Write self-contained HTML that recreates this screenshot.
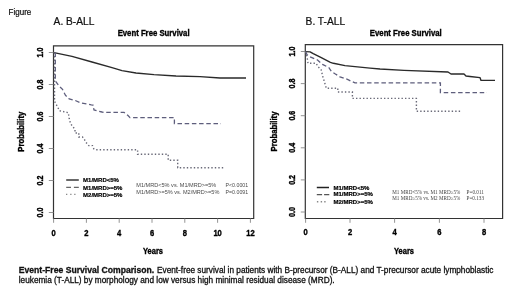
<!DOCTYPE html>
<html><head><meta charset="utf-8">
<style>
html,body{margin:0;padding:0;background:#fff;}
body{width:520px;height:296px;overflow:hidden;}
svg{display:block;filter:blur(0.3px);}
text{font-family:"Liberation Sans",sans-serif;}
.b{font-weight:bold;}
.hd{fill:#111;stroke:#111;stroke-width:0.22px;}
.ti{font-weight:bold;fill:#000;stroke:#000;stroke-width:0.32px;}
.lab{font-weight:bold;font-size:7.6px;fill:#000;stroke:#000;stroke-width:0.32px;text-anchor:middle;}
.box{fill:none;stroke:#333;stroke-width:1.2;}
.tk{stroke:#888;stroke-width:0.9;}
.sol{fill:none;stroke:#2a2a2a;stroke-width:1.4;stroke-linejoin:round;}
.das{fill:none;stroke:#5e5e7c;stroke-width:1.3;stroke-dasharray:4.5 2.7;}
.dot{fill:none;stroke:#6a6a78;stroke-width:1.4;stroke-dasharray:1.4 2.1;}
.lg{font-weight:bold;font-size:6px;fill:#000;stroke:#000;stroke-width:0.18px;}
.pv{font-size:5.6px;fill:#4a4a4a;}
.pvs{font-family:"Liberation Serif",serif;font-size:5.2px;fill:#444;}
.cap{font-size:8.25px;fill:#111;stroke:#111;stroke-width:0.3px;}
</style></head>
<body>
<svg width="520" height="296" viewBox="0 0 520 296">
<rect x="0" y="0" width="520" height="296" fill="#fff"/>
<text transform="translate(8.6 14.8) scale(1 1.08)" font-size="8.0" class="hd">Figure</text>
<text x="53.6" y="25" font-size="10.2" class="hd">A. B-ALL</text>
<text x="305.6" y="24.6" font-size="10.2" class="hd">B. T-ALL</text>
<text transform="translate(153.6 36.4) scale(1 1.08)" class="ti" font-size="7.76" text-anchor="middle">Event Free Survival</text>
<text transform="translate(405.8 36.4) scale(1 1.08)" class="ti" font-size="7.76" text-anchor="middle">Event Free Survival</text>

<!-- LEFT PLOT -->
<path class="box" d="M53.5 45.9 H253.7 V218.5 H53.5 Z"/>
<g class="tk">
<line x1="48.8" y1="52.5" x2="53.5" y2="52.5"/>
<line x1="48.8" y1="84.5" x2="53.5" y2="84.5"/>
<line x1="48.8" y1="116.5" x2="53.5" y2="116.5"/>
<line x1="48.8" y1="148.5" x2="53.5" y2="148.5"/>
<line x1="48.8" y1="180.5" x2="53.5" y2="180.5"/>
<line x1="48.8" y1="212.5" x2="53.5" y2="212.5"/>
<line x1="53.6" y1="218.5" x2="53.6" y2="222.8"/>
<line x1="86.4" y1="218.5" x2="86.4" y2="222.8"/>
<line x1="119.2" y1="218.5" x2="119.2" y2="222.8"/>
<line x1="152" y1="218.5" x2="152" y2="222.8"/>
<line x1="184.8" y1="218.5" x2="184.8" y2="222.8"/>
<line x1="217.6" y1="218.5" x2="217.6" y2="222.8"/>
<line x1="250.4" y1="218.5" x2="250.4" y2="222.8"/>
</g>
<g class="lab">
<text transform="translate(42.6 52.5) rotate(-90) scale(1 1.2)" font-size="7.1">1.0</text>
<text transform="translate(42.6 84.5) rotate(-90) scale(1 1.2)" font-size="7.1">0.8</text>
<text transform="translate(42.6 116.5) rotate(-90) scale(1 1.2)" font-size="7.1">0.6</text>
<text transform="translate(42.6 148.5) rotate(-90) scale(1 1.2)" font-size="7.1">0.4</text>
<text transform="translate(42.6 180.5) rotate(-90) scale(1 1.2)" font-size="7.1">0.2</text>
<text transform="translate(42.6 212.5) rotate(-90) scale(1 1.2)" font-size="7.1">0.0</text>
<text transform="translate(53.6 235.7) scale(1 1.08)">0</text>
<text transform="translate(86.4 235.7) scale(1 1.08)">2</text>
<text transform="translate(119.2 235.7) scale(1 1.08)">4</text>
<text transform="translate(152 235.7) scale(1 1.08)">6</text>
<text transform="translate(184.8 235.7) scale(1 1.08)">8</text>
<text transform="translate(217.6 235.7) scale(1 1.08)">10</text>
<text transform="translate(250.4 235.7) scale(1 1.08)">12</text>
</g>
<text transform="translate(24.4 131.7) rotate(-90) scale(1 1.08)" class="ti" font-size="7.74" text-anchor="middle">Probability</text>
<text transform="translate(153 254) scale(1 1.1)" class="ti" font-size="7.5" text-anchor="middle">Years</text>

<path class="sol" d="M54 52.6 L72 56.4 L92 62 L112 67.6 L122 70.6 L136 73 L154 74.6 L176 76 L200 76.6 L220 78 L246 78"/>
<path class="das" d="M55.3 52.6 V80.8 L58.7 85.6 L62.5 89.4 L65.4 95.2 L69.2 99 L75 100.4 L80.8 102.9 L91.3 104.8 L93 105 L94 110 L102 112 L104 112.4 H124 L128 115.6 L130 117.6 H174.4 V123.6 H221"/>
<path class="dot" d="M54.5 52.6 V101.2 L59.6 110.8 L68.3 112.7 L69.2 118.5 L70.6 123.75 L75 129.4 V133 H78.8 V137 H82.5 L84.4 139.4 L85.6 141.9 L88.75 145.6 H92.5 L93.75 148.75 L95.6 149.8 H137.6 V154.2 H168.2 V160.2 H177.7 V167.7 H225.2"/>

<line x1="66.2" y1="180" x2="78.8" y2="180" stroke="#444" stroke-width="1.6"/>
<path d="M66.2 187.3 H71 M73.9 187.3 H78.8" stroke="#666" stroke-width="1.3"/>
<path d="M66 194.4 h1.3 M70.2 194.4 h1.3 M74.2 194.4 h1.3" stroke="#888" stroke-width="1.3"/>
<text x="83.1" y="182.1" class="lg">M1/MRD&lt;5%</text>
<text x="83.1" y="189.8" class="lg">M1/MRD&gt;=5%</text>
<text x="83.1" y="197.3" class="lg">M2/MRD&gt;=5%</text>
<text x="136.3" y="186.5" class="pv" textLength="80" lengthAdjust="spacingAndGlyphs">M1/MRD&lt;5% vs. M1/MRD&gt;=5%</text>
<text x="225.6" y="186.5" class="pv" textLength="22.5" lengthAdjust="spacingAndGlyphs">P&lt;0.0001</text>
<text x="136.3" y="193.8" class="pv" textLength="83.1" lengthAdjust="spacingAndGlyphs">M1/MRD&gt;=5% vs. M2/MRD&gt;=5%</text>
<text x="225.6" y="193.8" class="pv" textLength="22.5" lengthAdjust="spacingAndGlyphs">P=0.0091</text>

<!-- RIGHT PLOT -->
<path class="box" d="M305.3 44.6 H502.6 V218.5 H305.3 Z"/>
<g class="tk">
<line x1="300.8" y1="51.5" x2="305.4" y2="51.5"/>
<line x1="300.8" y1="83.6" x2="305.4" y2="83.6"/>
<line x1="300.8" y1="115.7" x2="305.4" y2="115.7"/>
<line x1="300.8" y1="147.8" x2="305.4" y2="147.8"/>
<line x1="300.8" y1="179.9" x2="305.4" y2="179.9"/>
<line x1="300.8" y1="212.0" x2="305.4" y2="212.0"/>
<line x1="305.6" y1="218.5" x2="305.6" y2="222.8"/>
<line x1="350" y1="218.5" x2="350" y2="222.8"/>
<line x1="394.6" y1="218.5" x2="394.6" y2="222.8"/>
<line x1="439.4" y1="218.5" x2="439.4" y2="222.8"/>
<line x1="484" y1="218.5" x2="484" y2="222.8"/>
</g>
<g class="lab">
<text transform="translate(295 51.5) rotate(-90) scale(1 1.2)" font-size="7.1">1.0</text>
<text transform="translate(295 83.6) rotate(-90) scale(1 1.2)" font-size="7.1">0.8</text>
<text transform="translate(295 115.7) rotate(-90) scale(1 1.2)" font-size="7.1">0.6</text>
<text transform="translate(295 147.8) rotate(-90) scale(1 1.2)" font-size="7.1">0.4</text>
<text transform="translate(295 179.9) rotate(-90) scale(1 1.2)" font-size="7.1">0.2</text>
<text transform="translate(295 212.0) rotate(-90) scale(1 1.2)" font-size="7.1">0.0</text>
<text transform="translate(305.6 235.2) scale(1 1.08)">0</text>
<text transform="translate(350 235.2) scale(1 1.08)">2</text>
<text transform="translate(394.6 235.2) scale(1 1.08)">4</text>
<text transform="translate(439.4 235.2) scale(1 1.08)">6</text>
<text transform="translate(484 235.2) scale(1 1.08)">8</text>
</g>
<text transform="translate(277 131.5) rotate(-90) scale(1 1.08)" class="ti" font-size="7.74" text-anchor="middle">Probability</text>
<text transform="translate(404 254) scale(1 1.1)" class="ti" font-size="7.5" text-anchor="middle">Years</text>

<path class="sol" d="M305.5 51.6 L310.1 51.9 L313.2 53.7 L320.3 57.2 L330.4 62.3 L333.4 63.3 L345 65.6 L357.5 66.9 L370 68.1 L380 69 L404 70.4 L448 72 L451 74 H464 L466 76 L470 76.5 L480 77.6 L481 80.4 H495"/>
<path class="das" d="M305.5 51.6 L307.1 54.7 L310 56.9 L317.5 60 L322.5 64.4 L328.75 67.5 L331.25 71.25 L335 73.75 L340 76.9 L347.5 79.4 L351.25 81.25 L355 82.9 H440.4 V92.6 H487"/>
<path class="dot" d="M305.5 51.6 L307 56.7 L308 63.3 H316.2 L317.7 66.3 L321.25 70 L322.5 75.6 L325 83.75 L326.25 88.2 H337.8 V92 H352.4 V98.4 H416.4 V111.2 H462"/>

<line x1="316.8" y1="187.5" x2="329" y2="187.5" stroke="#222" stroke-width="1.5"/>
<path d="M316.8 194.6 H322.1 M324.1 194.6 H329.3" stroke="#555" stroke-width="1.3"/>
<path d="M316.9 201.8 h1.4 M320.7 201.8 h1.4 M324.2 201.8 h1.4" stroke="#888" stroke-width="1.4"/>
<text x="333.5" y="189.6" class="lg">M1/MRD&lt;5%</text>
<text x="333.5" y="196.4" class="lg">M1/MRD&gt;=5%</text>
<text x="333.5" y="203.8" class="lg">M2/MRD&gt;=5%</text>
<text x="392.3" y="193.6" class="pvs" textLength="68" lengthAdjust="spacingAndGlyphs">M1 MRD&lt;5% vs. M1 MRD&#8805;5%</text>
<text x="466.5" y="193.6" class="pvs" textLength="17.5" lengthAdjust="spacingAndGlyphs">P=0.011</text>
<text x="392.3" y="199.6" class="pvs" textLength="68" lengthAdjust="spacingAndGlyphs">M1 MRD&#8805;5% vs. M2 MRD&#8805;5%</text>
<text x="466.5" y="199.6" class="pvs" textLength="17.5" lengthAdjust="spacingAndGlyphs">P=0.133</text>

<!-- caption -->
<text x="18.75" y="273" class="cap"><tspan font-weight="bold" font-size="8.62">Event-Free Survival Comparison.</tspan><tspan x="157">Event-free survival in patients with B-precursor (B-ALL) and T-precursor acute lymphoblastic</tspan></text>
<text x="18.75" y="282.8" class="cap">leukemia (T-ALL) by morphology and low versus high minimal residual disease (MRD).</text>
</svg>
</body></html>
